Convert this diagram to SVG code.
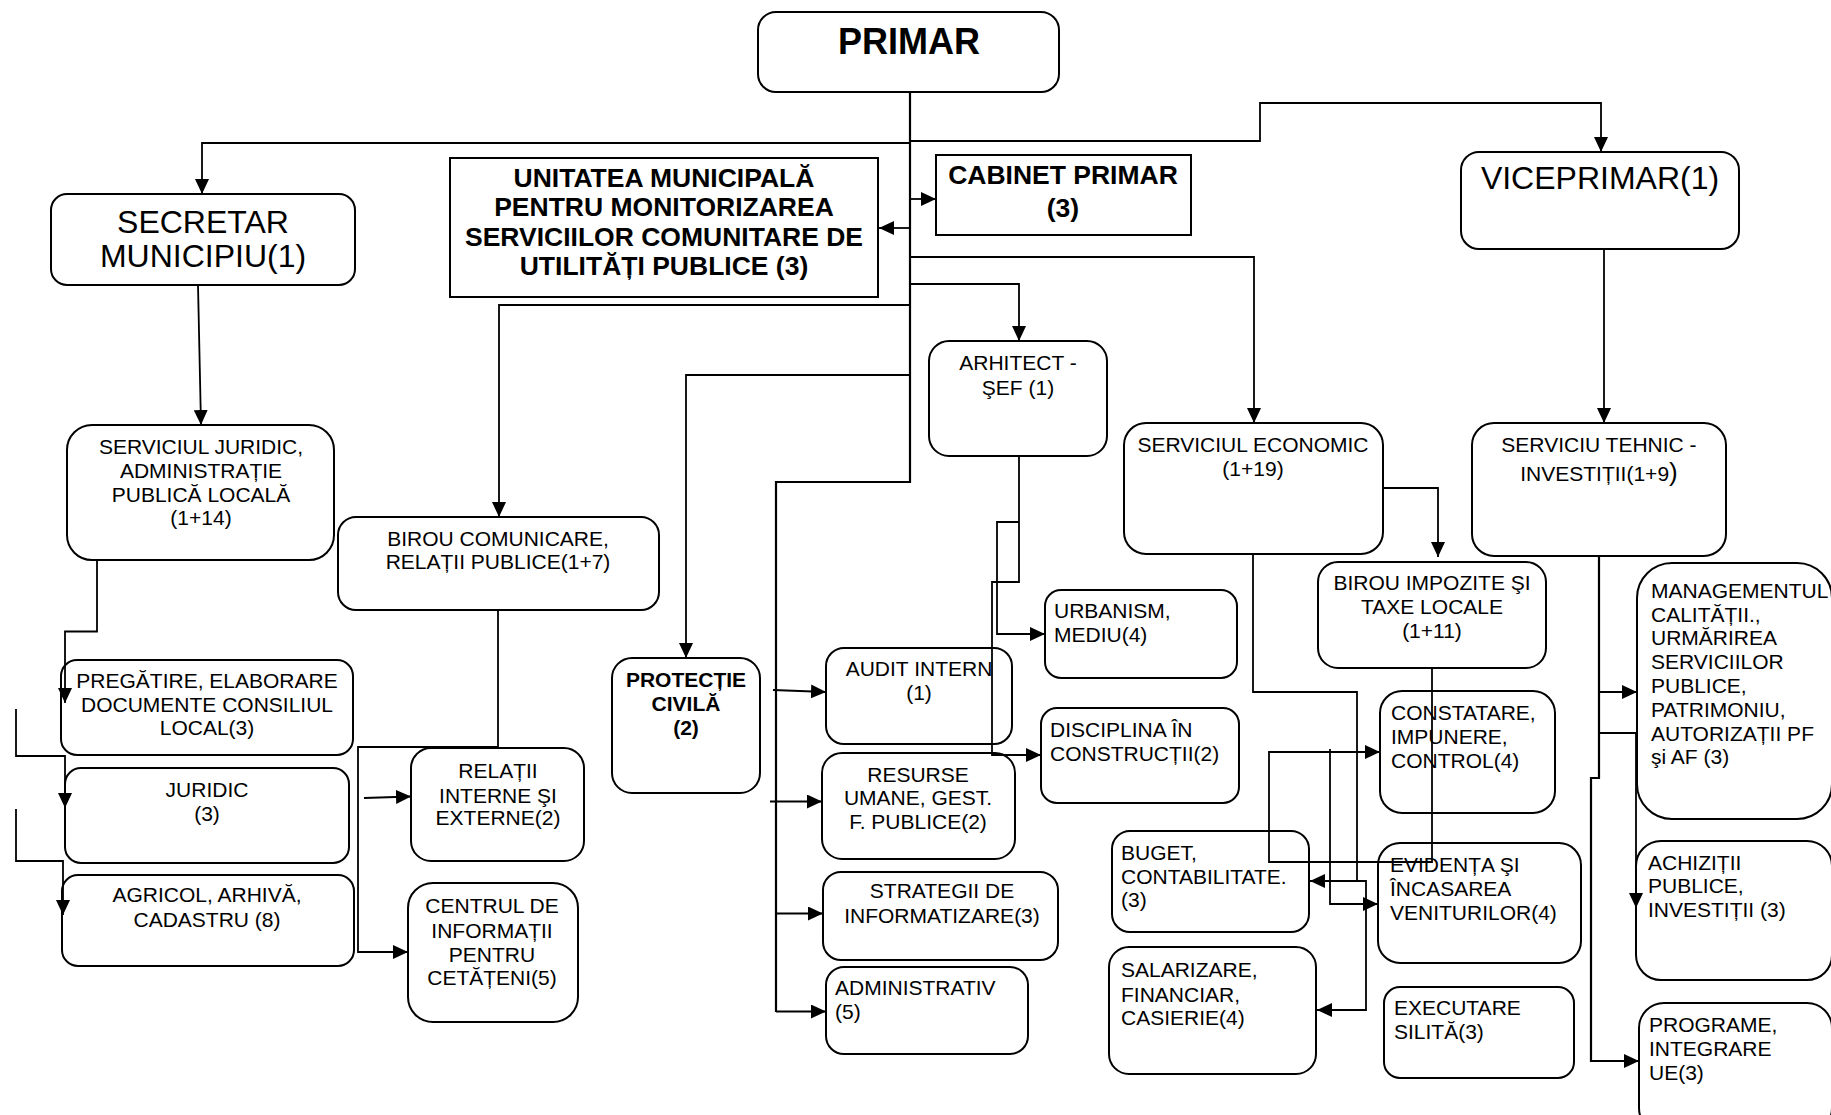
<svg xmlns="http://www.w3.org/2000/svg" width="1831" height="1115" viewBox="0 0 1831 1115">
<defs>
<marker id="ah" markerUnits="userSpaceOnUse" markerWidth="15" markerHeight="14" refX="15" refY="7" orient="auto">
<path d="M0,0 L15,7 L0,14 z" fill="#000"/>
</marker>
<style>
.b{fill:#fff;stroke:#000;stroke-width:2}
.t{font-family:"Liberation Sans",Arial,sans-serif;font-size:21px;fill:#000}
.c{text-anchor:middle}
.bd{font-weight:bold}
.big{font-size:32px}
.f26{font-size:26.5px}
.f36{font-size:36px}
.cn path{fill:none;stroke:#000;stroke-width:1.8}
.cn .a{marker-end:url(#ah)}
</style>
</defs>
<rect width="1831" height="1115" fill="#fff"/>

<g id="nodes">
<g id="primar"><rect class="b" x="758" y="12" width="301" height="80" rx="18"/>
<text class="t c bd f36" x="909" y="54">PRIMAR</text></g>

<g id="secretar"><rect class="b" x="51" y="194" width="304" height="91" rx="16"/>
<text class="t c big" x="203" y="233">SECRETAR</text><text class="t c big" x="203" y="267">MUNICIPIU(1)</text></g>

<g id="unitatea"><rect class="b" x="450" y="158" width="428" height="139"/>
<text class="t c bd f26" x="664" y="187">UNITATEA MUNICIPALĂ</text>
<text class="t c bd f26" x="664" y="216">PENTRU MONITORIZAREA</text>
<text class="t c bd f26" x="664" y="246">SERVICIILOR COMUNITARE DE</text>
<text class="t c bd f26" x="664" y="275">UTILITĂȚI PUBLICE (3)</text></g>

<g id="cabinet"><rect class="b" x="936" y="155" width="255" height="80"/>
<text class="t c bd f26" x="1063" y="184">CABINET PRIMAR</text>
<text class="t c bd f26" x="1063" y="217">(3)</text></g>

<g id="viceprimar"><rect class="b" x="1461" y="152" width="278" height="97" rx="18"/>
<text class="t c big" x="1600" y="189">VICEPRIMAR(1)</text></g>

<g id="serv-juridic"><rect class="b" x="67" y="425" width="267" height="135" rx="25"/>
<text class="t c" x="201" y="454">SERVICIUL JURIDIC,</text>
<text class="t c" x="201" y="478">ADMINISTRAȚIE</text>
<text class="t c" x="201" y="502">PUBLICĂ LOCALĂ</text>
<text class="t c" x="201" y="525">(1+14)</text></g>

<g id="birou-comunicare"><rect class="b" x="338" y="517" width="321" height="93" rx="18"/>
<text class="t c" x="498" y="546">BIROU COMUNICARE,</text>
<text class="t c" x="498" y="569">RELAȚII PUBLICE(1+7)</text></g>

<g id="pregatire"><rect class="b" x="61" y="660" width="292" height="95" rx="16"/>
<text class="t c" x="207" y="688">PREGĂTIRE, ELABORARE</text>
<text class="t c" x="207" y="712">DOCUMENTE CONSILIUL</text>
<text class="t c" x="207" y="735">LOCAL(3)</text></g>

<g id="juridic"><rect class="b" x="65" y="768" width="284" height="95" rx="16"/>
<text class="t c" x="207" y="797">JURIDIC</text>
<text class="t c" x="207" y="821">(3)</text></g>

<g id="agricol"><rect class="b" x="62" y="875" width="292" height="91" rx="16"/>
<text class="t c" x="207" y="902">AGRICOL, ARHIVĂ,</text>
<text class="t c" x="207" y="927">CADASTRU (8)</text></g>

<g id="relatii"><rect class="b" x="411" y="748" width="173" height="113" rx="20"/>
<text class="t c" x="498" y="778">RELAȚII</text>
<text class="t c" x="498" y="803">INTERNE ŞI</text>
<text class="t c" x="498" y="825">EXTERNE(2)</text></g>

<g id="centrul"><rect class="b" x="408" y="883" width="170" height="139" rx="25"/>
<text class="t c" x="492" y="913">CENTRUL DE</text>
<text class="t c" x="492" y="938">INFORMAȚII</text>
<text class="t c" x="492" y="962">PENTRU</text>
<text class="t c" x="492" y="985">CETĂȚENI(5)</text></g>

<g id="protectie"><rect class="b" x="612" y="658" width="148" height="135" rx="20"/>
<text class="t c bd" x="686" y="687">PROTECȚIE</text>
<text class="t c bd" x="686" y="711">CIVILĂ</text>
<text class="t c bd" x="686" y="735">(2)</text></g>

<g id="arhitect"><rect class="b" x="929" y="341" width="178" height="115" rx="20"/>
<text class="t c" x="1018" y="370">ARHITECT -</text>
<text class="t c" x="1018" y="395">ŞEF (1)</text></g>

<g id="audit"><rect class="b" x="826" y="648" width="186" height="96" rx="18"/>
<text class="t c" x="919" y="676">AUDIT INTERN</text>
<text class="t c" x="919" y="700">(1)</text></g>

<g id="resurse"><rect class="b" x="822" y="753" width="193" height="106" rx="20"/>
<text class="t c" x="918" y="782">RESURSE</text>
<text class="t c" x="918" y="805">UMANE, GEST.</text>
<text class="t c" x="918" y="829">F. PUBLICE(2)</text></g>

<g id="strategii"><rect class="b" x="823" y="872" width="235" height="88" rx="18"/>
<text class="t c" x="942" y="898">STRATEGII DE</text>
<text class="t c" x="942" y="923">INFORMATIZARE(3)</text></g>

<g id="administrativ"><rect class="b" x="826" y="967" width="202" height="87" rx="18"/>
<text class="t" x="835" y="995">ADMINISTRATIV</text>
<text class="t" x="835" y="1019">(5)</text></g>

<g id="urbanism"><rect class="b" x="1045" y="590" width="192" height="88" rx="16"/>
<text class="t" x="1054" y="618">URBANISM,</text>
<text class="t" x="1054" y="642">MEDIU(4)</text></g>

<g id="disciplina"><rect class="b" x="1041" y="708" width="198" height="95" rx="16"/>
<text class="t" x="1050" y="737">DISCIPLINA ÎN</text>
<text class="t" x="1050" y="761">CONSTRUCȚII(2)</text></g>

<g id="economic"><rect class="b" x="1124" y="423" width="259" height="131" rx="22"/>
<text class="t c" x="1253" y="452">SERVICIUL ECONOMIC</text>
<text class="t c" x="1253" y="476">(1+19)</text></g>

<g id="birou-impozite"><rect class="b" x="1318" y="562" width="228" height="106" rx="20"/>
<text class="t c" x="1432" y="590">BIROU IMPOZITE ŞI</text>
<text class="t c" x="1432" y="614">TAXE LOCALE</text>
<text class="t c" x="1432" y="638">(1+11)</text></g>

<g id="constatare"><rect class="b" x="1380" y="691" width="175" height="122" rx="22"/>
<text class="t" x="1391" y="720">CONSTATARE,</text>
<text class="t" x="1391" y="744">IMPUNERE,</text>
<text class="t" x="1391" y="768">CONTROL(4)</text></g>

<g id="buget"><rect class="b" x="1112" y="831" width="197" height="101" rx="18"/>
<text class="t" x="1121" y="860">BUGET,</text>
<text class="t" x="1121" y="884">CONTABILITATE.</text>
<text class="t" x="1121" y="907">(3)</text></g>

<g id="salarizare"><rect class="b" x="1109" y="947" width="207" height="127" rx="20"/>
<text class="t" x="1121" y="977">SALARIZARE,</text>
<text class="t" x="1121" y="1002">FINANCIAR,</text>
<text class="t" x="1121" y="1025">CASIERIE(4)</text></g>

<g id="evidenta"><rect class="b" x="1378" y="843" width="203" height="120" rx="22"/>
<text class="t" x="1390" y="872">EVIDENȚA ŞI</text>
<text class="t" x="1390" y="896">ÎNCASAREA</text>
<text class="t" x="1390" y="920">VENITURILOR(4)</text></g>

<g id="executare"><rect class="b" x="1384" y="987" width="190" height="91" rx="16"/>
<text class="t" x="1394" y="1015">EXECUTARE</text>
<text class="t" x="1394" y="1039">SILITĂ(3)</text></g>

<g id="tehnic"><rect class="b" x="1472" y="423" width="254" height="133" rx="22"/>
<text class="t c" x="1599" y="452">SERVICIU TEHNIC -</text>
<text class="t c" x="1599" y="481">INVESTIȚII(1+9<tspan style="font-size:26px">)</tspan></text></g>

<g id="managementul"><rect class="b" x="1637" y="563" width="195" height="256" rx="35"/>
<text class="t" x="1651" y="598">MANAGEMENTUL</text>
<text class="t" x="1651" y="622">CALITĂȚII.,</text>
<text class="t" x="1651" y="645">URMĂRIREA</text>
<text class="t" x="1651" y="669">SERVICIILOR</text>
<text class="t" x="1651" y="693">PUBLICE,</text>
<text class="t" x="1651" y="717">PATRIMONIU,</text>
<text class="t" x="1651" y="741">AUTORIZAȚII PF</text>
<text class="t" x="1651" y="764">şi AF (3)</text></g>

<g id="achizitii"><rect class="b" x="1636" y="841" width="196" height="139" rx="25"/>
<text class="t" x="1648" y="870">ACHIZIȚII</text>
<text class="t" x="1648" y="893">PUBLICE,</text>
<text class="t" x="1648" y="917">INVESTIȚII (3)</text></g>

<g id="programe"><rect class="b" x="1639" y="1003" width="193" height="130" rx="25"/>
<text class="t" x="1649" y="1032">PROGRAME,</text>
<text class="t" x="1649" y="1056">INTEGRARE</text>
<text class="t" x="1649" y="1080">UE(3)</text></g>
</g>

<g id="connectors" class="cn">
<path d="M910,92 V482 H776 V1012" style="stroke-width:2.2"/>
<path class="a" d="M910,143 H202 V194"/>
<path class="a" d="M910,141 H1260 V103 H1601 V152"/>
<path class="a" d="M910,228 H879"/>
<path class="a" d="M910,199 H936"/>
<path class="a" d="M910,257 H1254 V423"/>
<path class="a" d="M910,284 H1019 V341"/>
<path class="a" d="M910,305 H499 V517"/>
<path class="a" d="M910,375 H686 V658"/>
<path class="a" d="M773,690 L826,692"/>
<path class="a" d="M770,801.5 H822"/>
<path class="a" d="M776,913.5 H823"/>
<path class="a" d="M776,1011.5 H826"/>
<path class="a" d="M198,285 L201,425"/>
<path class="a" d="M97,560 V631.5 H65 V703"/>
<path class="a" d="M16,709 V756 H65 V808"/>
<path class="a" d="M16,809 V861 H63 V915"/>
<path class="a" d="M498,610 V747 H358 V952 H408"/>
<path class="a" d="M364,798 L411,796.5"/>
<path class="a" d="M1019,456 V582 H992 V755 H1041"/>
<path class="a" d="M1019,522 H997 V634 H1045"/>
<path class="a" d="M1383,488 H1438 V557"/>
<path d="M1253,554 V692 H1357 V881"/>
<path class="a" d="M1366,881 H1310"/>
<path class="a" d="M1357,881 H1366 V1010 H1317"/>
<path class="a" d="M1432,668 V862 H1269 V752 H1380"/>
<path class="a" d="M1330,749 V904 H1378"/>
<path class="a" d="M1604,249 V423"/>
<path class="a" d="M1599,556 V778 H1591 V1061 H1639" style="stroke-width:2.2"/>
<path class="a" d="M1599,692 H1637"/>
<path class="a" d="M1599,733 H1636 V908"/>
</g>
</svg>
